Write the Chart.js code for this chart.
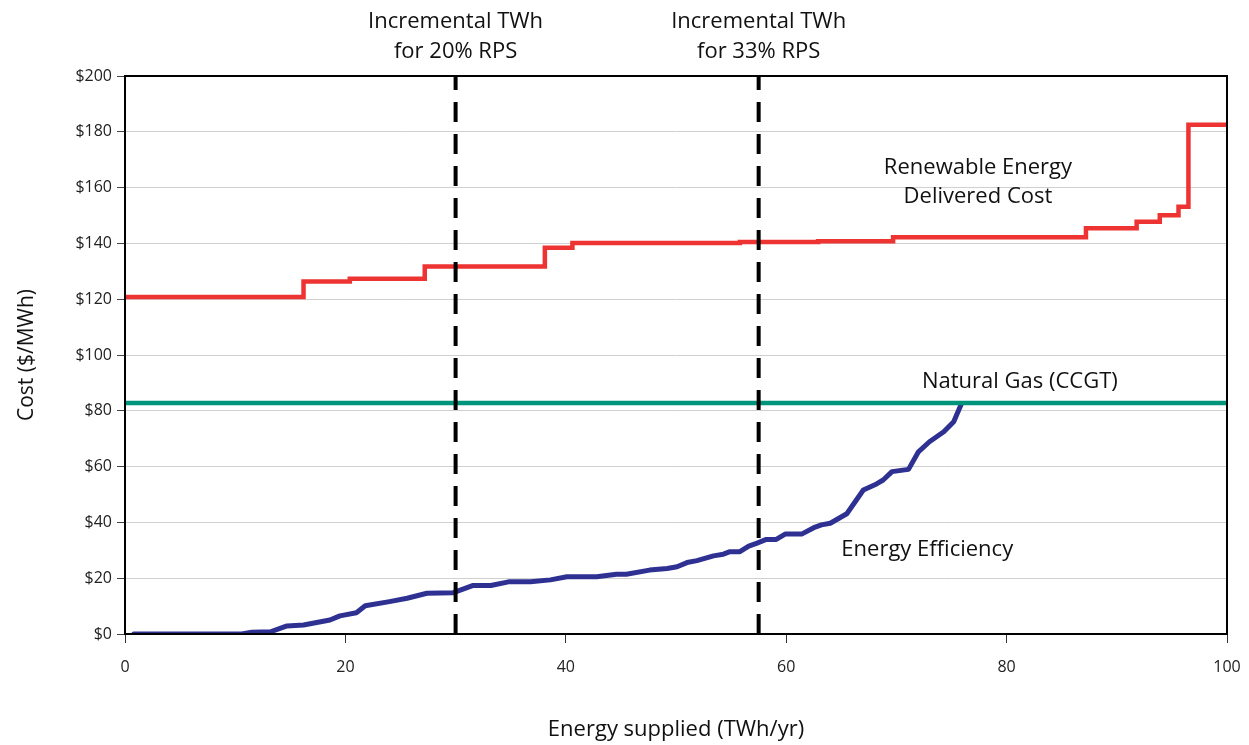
<!DOCTYPE html>
<html>
<head>
<meta charset="utf-8">
<script src="https://cdn.jsdelivr.net/npm/chart.js@4"></script>
<style>
  html, body { margin: 0; padding: 0; background: #fff; }
  #wrap { width: 1249px; height: 745px; position: relative; }
</style>
</head>
<body>
<div id="wrap"><canvas id="chart"></canvas></div>
<script>
const X_TICKS = [0, 20, 40, 60, 80, 100];
const Y_TICKS = [0, 20, 40, 60, 80, 100, 120, 140, 160, 180, 200];

// Renewable energy delivered cost (step starts)
const RE_X = [0, 16.2, 20.4, 27.2, 38.1, 40.6, 55.8, 62.9, 69.7, 87.2, 91.8, 93.9, 95.6, 96.5, 100];
const RE_Y = [120.8, 126.3, 127.3, 131.7, 138.4, 140.1, 140.5, 140.8, 142.2, 145.4, 147.8, 150.1, 153.1, 182.5, 182.5];

// Natural gas (CCGT)
const GAS_X = [0, 100];
const GAS_Y = [82.8, 82.8];

// Energy efficiency supply curve
const EE_X = [0.8, 10.6, 11.5, 13.2, 14.7, 16.2, 18.6, 19.5, 21.0, 21.8, 24.0, 25.6, 27.4, 29.8, 31.6, 33.2,
  34.8, 36.8, 38.6, 40.1, 42.8, 44.6, 45.5, 47.6, 49.2, 50.1, 51.0, 51.9, 53.4, 54.3, 54.9, 55.8, 56.6, 57.3,
  58.2, 59.1, 59.9, 61.4, 62.5, 63.2, 64.0, 65.5, 67.0, 68.2, 68.8, 69.6, 71.1, 72.0, 73.0, 74.3, 75.2, 75.9];
const EE_Y = [0, 0, 0.6, 0.8, 2.9, 3.2, 5.0, 6.5, 7.6, 10.1, 11.6, 12.8, 14.6, 14.8, 17.4, 17.4,
  18.7, 18.7, 19.4, 20.5, 20.5, 21.4, 21.4, 22.9, 23.5, 24.1, 25.6, 26.3, 28.0, 28.6, 29.5, 29.5, 31.5, 32.5,
  33.9, 33.9, 35.8, 35.8, 38.1, 39.1, 39.7, 43.1, 51.6, 53.8, 55.2, 58.2, 59.0, 65.3, 68.9, 72.5, 76.1, 82.5];

// RPS markers
const RPS_X = [30, 57.5];
const RPS_LABELS = [['Incremental TWh', 'for 20% RPS'], ['Incremental TWh', 'for 33% RPS']];

const FONT = "'Open Sans', 'Noto Sans', sans-serif";

const pts = (xs, ys) => xs.map((x, i) => ({ x, y: ys[i] }));

const rpsSets = RPS_X.map(x => ({
  data: [{ x, y: 0 }, { x, y: 200 }],
  borderColor: '#000',
  borderWidth: 4,
  borderDash: [20, 12],
  pointRadius: 0,
}));

// frame + annotation text
const annot = {
  id: 'annot',
  afterDraw(chart) {
    const { ctx, chartArea: a, scales: { x, y } } = chart;
    ctx.save();
    ctx.strokeStyle = '#000';
    ctx.lineWidth = 2;
    ctx.strokeRect(a.left, a.top, a.right - a.left, a.bottom - a.top);

    ctx.fillStyle = '#111';
    ctx.font = `22px ${FONT}`;
    ctx.textAlign = 'center';
    ctx.textBaseline = 'middle';
    RPS_X.forEach((v, i) => {
      const px = x.getPixelForValue(v);
      ctx.fillText(RPS_LABELS[i][0], px, 22);
      ctx.fillText(RPS_LABELS[i][1], px, 52);
    });
    ctx.fillText('Renewable Energy', x.getPixelForValue(77.4), y.getPixelForValue(167));
    ctx.fillText('Delivered Cost', x.getPixelForValue(77.4), y.getPixelForValue(156.6));
    ctx.fillText('Natural Gas (CCGT)', x.getPixelForValue(81.2), y.getPixelForValue(90.3));
    ctx.fillText('Energy Efficiency', x.getPixelForValue(72.8), y.getPixelForValue(30.1));
    ctx.restore();
  }
};

new Chart(document.getElementById('chart'), {
  type: 'line',
  data: {
    datasets: [
      ...rpsSets,
      { data: pts(GAS_X, GAS_Y), borderColor: '#00957a', borderWidth: 4.5, pointRadius: 0 },
      { data: pts(RE_X, RE_Y), borderColor: '#ee3333', borderWidth: 4.5, pointRadius: 0, stepped: 'before' },
      { data: pts(EE_X, EE_Y), borderColor: '#2e3192', borderWidth: 5, pointRadius: 0, tension: 0,
        borderJoinStyle: 'round', borderCapStyle: 'round' },
    ],
  },
  options: {
    responsive: true,
    maintainAspectRatio: false,
    animation: false,
    layout: { padding: { top: 76, right: 22, left: 0, bottom: 0 } },
    plugins: { legend: { display: false }, tooltip: { enabled: false } },
    scales: {
      x: {
        type: 'linear',
        min: 0, max: 100,
        afterBuildTicks: s => { s.ticks = X_TICKS.map(value => ({ value })); },
        afterFit: s => { s.height = 111; s.paddingRight = 0; s.paddingLeft = 0; },
        border: { color: '#000', width: 2 },
        grid: { drawOnChartArea: false, drawTicks: true, tickLength: 9, tickColor: '#333' },
        ticks: { color: '#222', font: { family: FONT, size: 16 }, padding: 15, maxRotation: 0 },
        title: { display: true, text: 'Energy supplied (TWh/yr)', color: '#111',
          font: { family: FONT, size: 22 }, padding: { top: 0, bottom: 2 } },
      },
      y: {
        min: 0, max: 200,
        afterBuildTicks: s => { s.ticks = Y_TICKS.map(value => ({ value })); },
        afterFit: s => { s.width = 125; },
        border: { color: '#000', width: 2 },
        grid: { color: '#d0d0d0', lineWidth: 1, tickLength: 8, tickColor: '#444' },
        ticks: { color: '#222', font: { family: FONT, size: 16 }, padding: 5, callback: v => '$' + v },
        title: { display: true, text: 'Cost ($/MWh)', color: '#111',
          font: { family: FONT, size: 21 }, padding: { top: 14, bottom: 0 } },
      },
    },
  },
  plugins: [annot],
});
</script>
</body>
</html>
